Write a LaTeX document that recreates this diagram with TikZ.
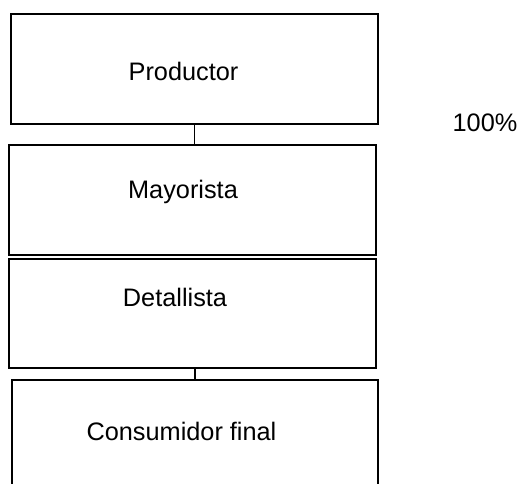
\documentclass[tikz,border=0pt]{standalone}
\usepackage{fontspec}
\setmainfont{Liberation Sans}
\begin{document}
\begin{tikzpicture}[x=1pt,y=-1pt,
  boxnode/.style={draw=black,line width=1.1pt,rectangle,inner sep=0pt},
  lbl/.style={anchor=base,inner sep=0pt,font=\fontsize{25.3}{30}\selectfont},
  conn/.style={draw=black,line width=1.2pt}]
\useasboundingbox (0,0) rectangle (520,483);
\clip (0,0) rectangle (520,483);
\node[boxnode,minimum width=367pt,minimum height=110pt] (p) at (194.5,69) {};
\node[boxnode,minimum width=367pt,minimum height=110pt] (m) at (192.5,200) {};
\node[boxnode,minimum width=367pt,minimum height=109pt] (d) at (192.5,313.5) {};
\node[boxnode,minimum width=366pt,minimum height=110pt] (c) at (195,435) {};
\node[lbl] (tp) at (183.5,80) {Productor};
\node[lbl] (tm) at (183,198) {Mayorista};
\node[lbl] (td) at (175,306) {Detallista};
\node[lbl] (tc) at (181.5,440) {Consumidor final};
\node[lbl] (pct) at (485,131) {100\%};
\draw[conn] (p.south) -- (p.south |- m.north);
\draw[conn] (c.north |- d.south) -- (c.north);
\end{tikzpicture}
\end{document}
